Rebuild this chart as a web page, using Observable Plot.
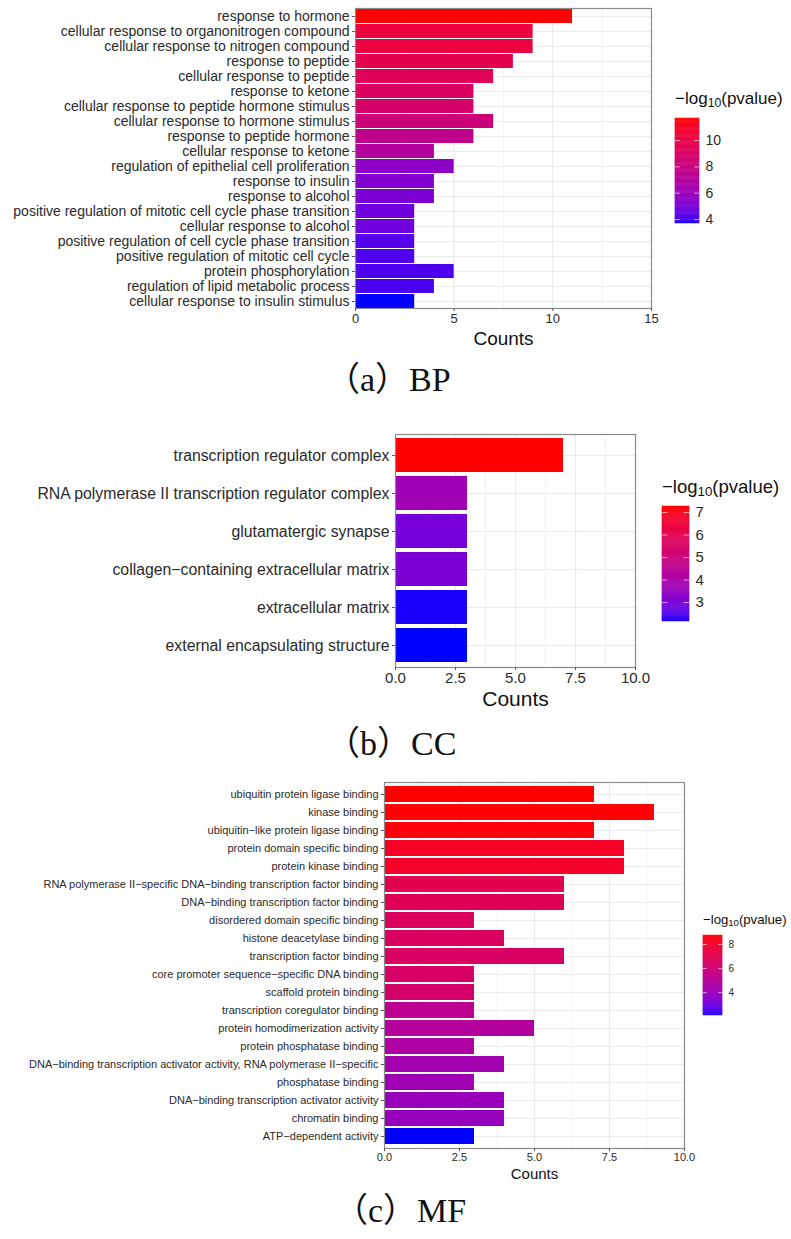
<!DOCTYPE html>
<html><head><meta charset="utf-8">
<script src="https://cdn.jsdelivr.net/npm/d3@7"></script>
<script src="https://cdn.jsdelivr.net/npm/@observablehq/plot@0.6"></script>
<style>
body{margin:0;background:#fff;}
#root{position:relative;width:791px;height:1239px;overflow:hidden;font-family:"Liberation Sans",Arial,sans-serif;background:#fff;}
.caption{font-family:"Liberation Serif","Noto Sans CJK SC",serif;color:#111;white-space:nowrap;line-height:1;}
.ltitle{white-space:nowrap;color:#111;line-height:1;font-family:"Liberation Sans",Arial,sans-serif;}
.ltitle sub{font-size:0.72em;vertical-align:-0.25em;line-height:0;}
</style></head><body><div id="root"></div>
<script>
// ---------- BP ----------
const bpTerms = [
  "response to hormone",
  "cellular response to organonitrogen compound",
  "cellular response to nitrogen compound",
  "response to peptide",
  "cellular response to peptide",
  "response to ketone",
  "cellular response to peptide hormone stimulus",
  "cellular response to hormone stimulus",
  "response to peptide hormone",
  "cellular response to ketone",
  "regulation of epithelial cell proliferation",
  "response to insulin",
  "response to alcohol",
  "positive regulation of mitotic cell cycle phase transition",
  "cellular response to alcohol",
  "positive regulation of cell cycle phase transition",
  "positive regulation of mitotic cell cycle",
  "protein phosphorylation",
  "regulation of lipid metabolic process",
  "cellular response to insulin stimulus"
];
const bpCounts = [11, 9, 9, 8, 7, 6, 6, 7, 6, 4, 5, 4, 4, 3, 3, 3, 3, 5, 4, 3];
const bpLogP = [11.67, 10.3, 10.2, 9.7, 9.4, 9.1, 8.8, 8.3, 7.6, 7.0, 5.6, 5.3, 5.1, 4.8, 4.8, 4.3, 4.25, 4.2, 4.15, 3.70];
const bpXTicks = [0, 5, 10, 15];
const bpLegendTicks = [4, 6, 8, 10];

// ---------- CC ----------
const ccTerms = [
  "transcription regulator complex",
  "RNA polymerase II transcription regulator complex",
  "glutamatergic synapse",
  "collagen−containing extracellular matrix",
  "extracellular matrix",
  "external encapsulating structure"
];
const ccCounts = [7, 3, 3, 3, 3, 3];
const ccLogP = [7.27, 3.75, 2.95, 3.05, 2.2, 2.16];
const ccXTicks = [0, 2.5, 5, 7.5, 10];
const ccLegendTicks = [3, 4, 5, 6, 7];

// ---------- MF ----------
const mfTerms = [
  "ubiquitin protein ligase binding",
  "kinase binding",
  "ubiquitin−like protein ligase binding",
  "protein domain specific binding",
  "protein kinase binding",
  "RNA polymerase II−specific DNA−binding transcription factor binding",
  "DNA−binding transcription factor binding",
  "disordered domain specific binding",
  "histone deacetylase binding",
  "transcription factor binding",
  "core promoter sequence−specific DNA binding",
  "scaffold protein binding",
  "transcription coregulator binding",
  "protein homodimerization activity",
  "protein phosphatase binding",
  "DNA−binding transcription activator activity, RNA polymerase II−specific",
  "phosphatase binding",
  "DNA−binding transcription activator activity",
  "chromatin binding",
  "ATP−dependent activity"
];
const mfCounts = [7, 9, 7, 8, 8, 6, 6, 3, 4, 6, 3, 3, 3, 5, 3, 4, 3, 4, 4, 3];
const mfLogP = [8.75, 8.7, 8.6, 8.2, 8.1, 7.1, 6.9, 6.7, 6.6, 6.5, 6.4, 6.3, 5.2, 4.9, 4.7, 4.3, 4.2, 4.0, 3.9, 2.1];
const mfXTicks = [0, 2.5, 5, 7.5, 10];
const mfLegendTicks = [4, 6, 8];

const captions = ["（a）BP", "（b）CC", "（c）MF"];

const root = document.getElementById("root");
function place(el, left, top) {
  el.style.position = "absolute";
  el.style.left = left + "px";
  el.style.top = top + "px";
  root.appendChild(el);
  return el;
}

function panel(cfg) {
  const data = cfg.terms.map((t, i) => ({term: t, count: cfg.counts[i], logp: cfg.logp[i]}));
  const cdomain = d3.extent(cfg.logp);
  const colorOpts = {type: "linear", domain: cdomain, range: ["blue", "red"], interpolate: "lab"};
  const step = cfg.xTicks[1] - cfg.xTicks[0];
  const minor = cfg.xTicks.slice(0, -1).map(v => v + step / 2);
  const xmax = cfg.xTicks[cfg.xTicks.length - 1];
  const chart = Plot.plot({
    width: cfg.pRight + 40,
    height: cfg.pBottom - cfg.svgTop + cfg.mBottom,
    marginLeft: cfg.pLeft,
    marginRight: 40,
    marginTop: cfg.pTop - cfg.svgTop,
    marginBottom: cfg.mBottom,
    style: {fontFamily: '"Liberation Sans", Arial, sans-serif', background: "transparent", overflow: "visible"},
    x: {domain: [0, xmax], nice: false},
    y: {domain: cfg.terms, paddingInner: 0.1, paddingOuter: 0.04},
    color: colorOpts,
    marks: [
      Plot.gridX(minor, {stroke: "#ebebeb", strokeOpacity: 1, strokeWidth: 0.6}),
      Plot.gridX(cfg.xTicks, {stroke: "#ebebeb", strokeOpacity: 1, strokeWidth: 1.1}),
      Plot.gridY({stroke: "#ebebeb", strokeOpacity: 1, strokeWidth: 1.1}),
      Plot.barX(data, {x: "count", y: "term", fill: "logp", inset: 0}),
      Plot.frame({stroke: "#8a8a8a", strokeWidth: 1.2}),
      Plot.axisY({tickSize: 3, tickPadding: 3, fontSize: cfg.yFont, label: null, stroke: "#555", fill: "#2a2a2a"}),
      Plot.axisX(cfg.xTicks, {tickSize: 3, tickPadding: 2, fontSize: cfg.xFont, label: null, stroke: "#555", fill: "#2a2a2a", tickFormat: cfg.fmt}),
      Plot.text(["Counts"], {frameAnchor: "bottom", lineAnchor: "bottom", dy: cfg.countsDy, fontSize: cfg.countsFont, fill: "#111"})
    ]
  });
  place(chart, 0, cfg.svgTop);

  // legend title
  const t = document.createElement("div");
  t.className = "ltitle";
  t.style.fontSize = cfg.ltFont + "px";
  t.innerHTML = "−log<sub>10</sub>(pvalue)";
  place(t, cfg.lLeft, cfg.ltTop);

  // colorbar
  const n = 120;
  const slices = d3.range(n).map(i => {
    const a = cdomain[0] + (cdomain[1] - cdomain[0]) * i / n;
    const b = cdomain[0] + (cdomain[1] - cdomain[0]) * (i + 1) / n;
    return {y1: a, y2: b, v: (a + b) / 2};
  });
  const bar = Plot.plot({
    width: cfg.lWidth + 40,
    height: cfg.lBottom - cfg.lTop,
    marginLeft: 0, marginRight: 40, marginTop: 0, marginBottom: 0,
    style: {fontFamily: '"Liberation Sans", Arial, sans-serif', background: "transparent", overflow: "visible"},
    x: {domain: [0, 1], axis: null},
    y: {domain: cdomain, axis: null},
    color: colorOpts,
    marks: [
      Plot.rect(slices, {x1: 0, x2: 1, y1: "y1", y2: "y2", fill: "v", stroke: "v", strokeWidth: 0.5}),
      Plot.ruleY(cfg.lTicks, {x1: 0, x2: 0.2, stroke: "white", strokeOpacity: 0.6}),
      Plot.ruleY(cfg.lTicks, {x1: 0.8, x2: 1, stroke: "white", strokeOpacity: 0.6}),
      Plot.axisY(cfg.lTicks, {anchor: "right", tickSize: 0, tickPadding: 6, fontSize: cfg.lFont, label: null, fill: "#2a2a2a"})
    ]
  });
  place(bar, cfg.lLeft, cfg.lTop);
}

panel({terms: bpTerms, counts: bpCounts, logp: bpLogP, xTicks: bpXTicks, fmt: d3.format("d"),
  svgTop: 0, pLeft: 355, pRight: 651, pTop: 8, pBottom: 308, mBottom: 40,
  yFont: 14, xFont: 13, countsFont: 19, countsDy: 36,
  lLeft: 675, lTop: 118, lBottom: 223, lWidth: 24, lTicks: bpLegendTicks, lFont: 14, ltFont: 17, ltTop: 90});

panel({terms: ccTerms, counts: ccCounts, logp: ccLogP, xTicks: ccXTicks, fmt: d3.format(".1f"),
  svgTop: 420, pLeft: 395, pRight: 635, pTop: 434, pBottom: 667, mBottom: 45,
  yFont: 15.8, xFont: 15, countsFont: 21, countsDy: 38,
  lLeft: 662, lTop: 506, lBottom: 621, lWidth: 27, lTicks: ccLegendTicks, lFont: 15, ltFont: 18.5, ltTop: 478});

panel({terms: mfTerms, counts: mfCounts, logp: mfLogP, xTicks: mfXTicks, fmt: d3.format(".1f"),
  svgTop: 770, pLeft: 384, pRight: 684, pTop: 782, pBottom: 1148, mBottom: 35,
  yFont: 11, xFont: 11, countsFont: 15, countsDy: 30,
  lLeft: 703, lTop: 935, lBottom: 1015, lWidth: 19, lTicks: mfLegendTicks, lFont: 10, ltFont: 13.2, ltTop: 913});

// captions
const capPos = [[326, 363], [326, 727], [334, 1194]];
captions.forEach((c, i) => {
  const d = document.createElement("div");
  d.className = "caption";
  d.style.fontSize = "34px";
  d.textContent = c;
  place(d, capPos[i][0], capPos[i][1]);
});
</script>
</body></html>
